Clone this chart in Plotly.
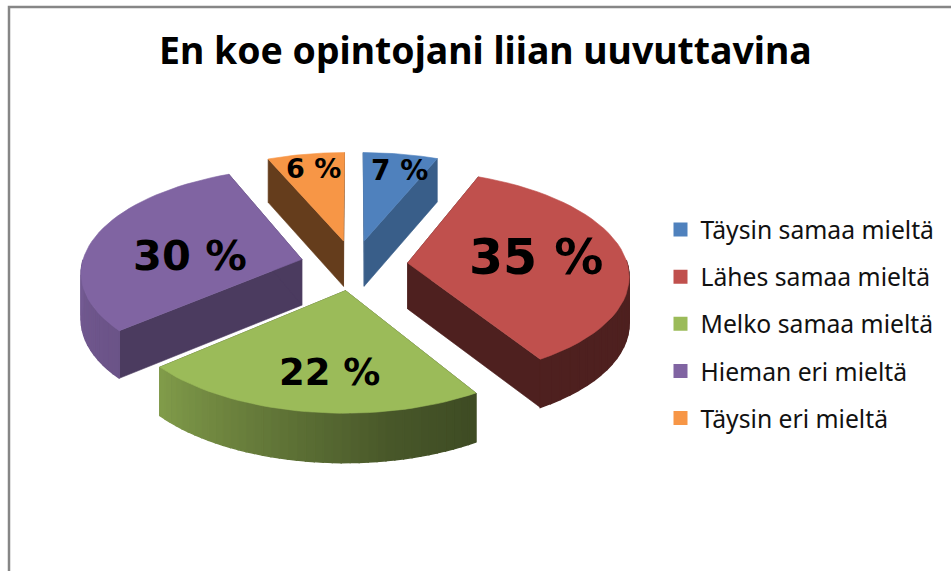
import numpy as np
import plotly.graph_objects as go

# --- data ---
title = "En koe opintojani liian uuvuttavina"
categories = ["Täysin samaa mieltä", "Lähes samaa mieltä", "Melko samaa mieltä",
              "Hieman eri mieltä", "Täysin eri mieltä"]
values = [6.2, 35.0, 22.5, 29.9, 6.4]
labels = ["7 %", "35 %", "22 %", "30 %", "6 %"]

# --- style ---
colors = ["#4F81BD", "#C0504D", "#9BBB59", "#8064A2", "#F79646"]
side_shade = [0.73, 0.41, 0.41, 0.59, 0.41]
label_sizes = [28, 49, 37, 41.5, 27]
label_r = [0.75, 0.59, 0.69, 0.51, 0.767]
label_shift = [3, 0, -3.5, -14, 0]
label_lift = [4, 1, -1, 5, 4]
draw_order = [0, 4, 3, 1, 2]

CX, CY, R, RT, K, EXPLODE, DEPTH = 354, 265, 220, 103, 0.11, 0.245, 46
FONT = "Noto Sans"
LABEL_FONT = "DejaVu Sans"


def hex2rgb(h):
    return [int(h[i:i + 2], 16) for i in (1, 3, 5)]


def shade(h, f):
    r, g, b = [min(255, int(c * f)) for c in hex2rgb(h)]
    return f"rgb({r},{g},{b})"


def project(u, v, drop=0.0):
    s = 1.0 / (1.0 + K * v)
    return CX + R * u * s, CY - RT * v * s + drop * DEPTH * s ** 0.5


def point(theta, radius, apex):
    return apex[0] + radius * np.sin(theta), apex[1] + radius * np.cos(theta)


def polygon(fig, pts, color, width=0.6):
    xs = [p[0] for p in pts] + [pts[0][0]]
    ys = [p[1] for p in pts] + [pts[0][1]]
    fig.add_trace(go.Scatter(x=xs, y=ys, mode="lines", fill="toself", fillcolor=color,
                             line=dict(color=color, width=width), hoverinfo="skip",
                             showlegend=False))


def arc_shade(deg):
    return float(np.interp(deg, [90, 151, 170, 230, 285], [0.41, 0.41, 0.47, 0.84, 0.93]))


fig = go.Figure()
total = sum(values)
edges = np.cumsum([0] + values) / total * 2 * np.pi

for i in draw_order:
    a0, a1 = edges[i], edges[i + 1]
    mid = (a0 + a1) / 2
    apex = (EXPLODE * np.sin(mid), EXPLODE * np.cos(mid))
    col = colors[i]
    side = shade(col, side_shade[i])
    # radial side faces
    for a in (a0, a1):
        uv = point(a, 1, apex)
        polygon(fig, [project(*apex), project(*uv), project(*uv, 1), project(*apex, 1)], side)
    # outer rim, front half only
    th = np.linspace(a0, a1, 41)
    for t0, t1 in zip(th[:-1], th[1:]):
        if np.cos((t0 + t1) / 2) > 0:
            continue
        p0, p1 = point(t0, 1, apex), point(t1, 1, apex)
        polygon(fig, [project(*p0), project(*p1), project(*p1, 1), project(*p0, 1)],
                shade(col, arc_shade(np.degrees((t0 + t1) / 2))), width=1.4)
    # top
    polygon(fig, [project(*apex)] + [project(*point(t, 1, apex)) for t in th], col)

# legend entries
for name, col in zip(categories, colors):
    fig.add_trace(go.Scatter(x=[None], y=[None], mode="markers", name=name, legendgroup=name,
                             marker=dict(symbol="square", size=14, color=col)))

# value labels
annotations = []
for i, txt in enumerate(labels):
    mid = (edges[i] + edges[i + 1]) / 2
    apex = (EXPLODE * np.sin(mid), EXPLODE * np.cos(mid))
    x, y = project(*point(mid + np.radians(label_shift[i]), label_r[i], apex))
    annotations.append(dict(x=x, y=y, xref="x", yref="y", text=f"<b>{txt}</b>", showarrow=False,
                            yshift=label_lift[i],
                            font=dict(family=LABEL_FONT, size=label_sizes[i], color="black")))
annotations.append(dict(x=485, y=49, xref="x", yref="y", text=f"<b>{title}</b>", showarrow=False,
                        font=dict(family=FONT, size=37.4, color="black")))

fig.update_layout(
    width=951, height=571, margin=dict(l=0, r=0, t=0, b=0), autosize=False,
    paper_bgcolor="white", plot_bgcolor="white",
    xaxis=dict(range=[0, 951], visible=False, fixedrange=True),
    yaxis=dict(range=[571, 0], visible=False, fixedrange=True),
    annotations=annotations,
    legend=dict(x=660.5 / 951, y=1 - 207 / 571, xanchor="left", yanchor="top",
                bgcolor="rgba(0,0,0,0)", tracegroupgap=12, itemwidth=30,
                font=dict(family=FONT, size=24.7, color="#111111")),
    shapes=[dict(type="path", xref="x", yref="y", path="M 9 580 L 9 7 L 960 7",
                 line=dict(color="#868686", width=2.5))],
)
fig.write_html("out.html", post_script="document.body.style.margin='0';",
               config=dict(displayModeBar=False))
